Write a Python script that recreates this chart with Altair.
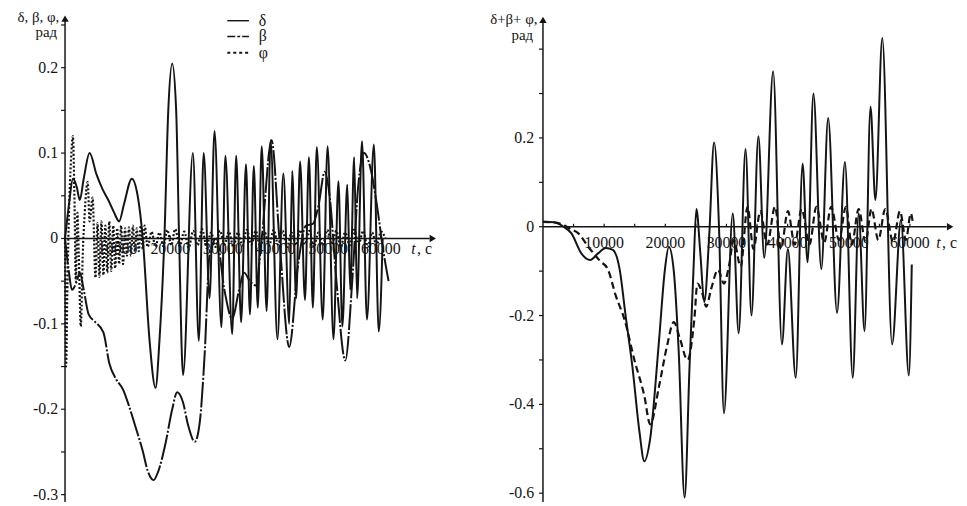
import altair as alt
import pandas as pd

# ---------------- LEFT PANEL DATA (t in s, values in rad) ----------------
delta_t = [0, 750, 1500, 2240, 2800, 3550, 4670, 5980, 7100, 8220, 9350, 10280, 11200, 12700, 13650, 14770,
           16070, 17200, 17940, 18880, 19620, 20370, 21120, 21680, 22430, 24300, 25420, 26350, 27470, 28410,
           29720, 30470, 31770, 32520, 33460, 34390, 35140, 35880, 36630, 37380, 38310, 39060, 40370, 41490,
           42610, 43170, 43920, 44670, 45600, 46350, 47100, 47850, 48970, 49900, 51020, 51960, 52710, 53640,
           54200, 54950, 55510, 56440, 57380, 58690, 59620, 60370]
delta_v = [0, 0.04, 0.07, 0.06, 0.045, 0.07, 0.1, 0.075, 0.058, 0.045, 0.03, 0.02, 0.04, 0.07, 0.055, 0.0,
           -0.12, -0.175, -0.12, 0.0, 0.15, 0.205, 0.15, 0.0, -0.16, 0.10, -0.12, 0.10, -0.07, 0.126,
           -0.104, 0.097, -0.112, 0.097, -0.098, 0.087, -0.089, 0.085, -0.081, 0.108, -0.085, 0.115, -0.118, 0.076,
           -0.10, 0.079, -0.07, 0.09, -0.072, 0.095, -0.081, 0.107, -0.095, 0.108, -0.118, 0.067, -0.103, 0.063,
           -0.06, 0.095, -0.07, 0.114, -0.095, 0.11, -0.109, 0.0]

beta_t = [0, 750, 1310, 2240, 2800, 3550, 4490, 5610, 7290, 8410, 9720, 11030, 12150, 13460, 14770, 15700,
          16820, 17760, 19060, 20370, 21310, 22430, 23360, 24670, 25610, 26540, 27470, 28780, 30280, 31770,
          33080, 34020, 35140, 36260, 37380, 39250, 40740, 42610, 44300, 45790, 47100, 48220, 49340, 50280,
          51580, 53270, 54580, 55700, 56820, 57940, 59250, 60370, 61490]
beta_v = [0, -0.04, -0.06, -0.05, -0.04, -0.06, -0.089, -0.097, -0.11, -0.146, -0.165, -0.177, -0.196, -0.222,
          -0.249, -0.272, -0.283, -0.272, -0.241, -0.2, -0.18, -0.192, -0.218, -0.238, -0.215, -0.135, -0.02,
          0.0, -0.06, -0.094, -0.06, -0.04, -0.05, -0.055, 0.0, 0.115, 0.0, -0.127, -0.03, 0.015, 0.017, 0.04,
          0.078, 0.05, -0.05, -0.143, -0.05, 0.06, 0.1, 0.085, 0.04, -0.01, -0.05]

phi_t = [0, 190, 470, 750, 1120, 1500, 1780, 2060, 2340, 2620, 2990, 3360, 3740, 4300, 4670, 5230, 5790, 6170,
         6540, 6920, 7290, 7660, 8040, 8410, 8780, 9160, 9530, 9910, 10280, 10650, 11030, 11400, 11770, 12150,
         12520, 12900, 13270, 13640, 14020, 14390, 14770, 15140, 15700, 16450, 17200, 17940, 18690, 19440,
         20190, 20930,
         21800, 22650, 23500, 24350, 25200, 26050, 26900, 27750, 28600, 29450, 30300, 31150, 32000, 32850,
         33700, 34550, 35400, 36250, 37100, 37950, 38800, 39650, 40500, 41350, 42200, 43050, 43900, 44750,
         45600, 46450, 47300, 48150, 49000, 49850, 50700, 51550, 52400, 53250, 54100, 54950, 55800, 56650,
         57500, 58350, 59200, 60050, 60900]
phi_v = [0, -0.15, -0.05, 0.03, 0.09, 0.12, 0.05, -0.05, 0.03, -0.02, -0.103, -0.02, 0.03, 0.066, 0.02, 0.048,
         -0.046, 0.018, -0.045, 0.02, -0.043, 0.015, -0.04, 0.02, -0.038, 0.015, -0.035, 0.012, -0.03, 0.015,
         -0.03, 0.012, -0.02, 0.013, -0.02, 0.015, -0.015, 0.012, -0.015, 0.015, -0.012, 0.015, -0.01, 0.008,
         -0.01, 0.007, -0.009, 0.01, -0.008, 0.011,
         -0.009, 0.008, -0.011, 0.009, -0.008, 0.011, -0.009, 0.007, -0.01, 0.009, -0.007, 0.008, -0.01, 0.007,
         -0.008, 0.01, -0.007, 0.009, -0.01, 0.007, -0.008, 0.01, -0.007, 0.009, -0.01, 0.007, -0.008, 0.01,
         -0.007, 0.009, -0.01, 0.007, -0.008, 0.01, -0.007, 0.009, -0.01, 0.007, -0.008, 0.01, -0.007, 0.009,
         -0.01, 0.007, -0.008, 0.008, 0.0]

# ---------------- RIGHT PANEL DATA ----------------
sum1_t = [0, 1770, 3380, 4660, 6270, 7720, 9000, 10290, 11420, 12540, 13510, 14630, 15760, 16560, 17530, 18970,
          19940, 20580, 21390, 22190, 23160, 23960, 24600, 25080, 25730, 26370, 27180, 27980, 28780, 29590,
          31030, 32000, 33120, 34090, 35220, 36180, 37630, 39070, 40040, 41330, 42450, 43260, 44220, 45510,
          46630, 48080, 49370, 50650, 51620, 52580, 53550, 54350, 55480, 57080, 58530, 59820, 60300]
sum1_v = [0.011, 0.01, 0.0, -0.015, -0.06, -0.075, -0.06, -0.048, -0.052, -0.096, -0.2, -0.316, -0.46, -0.528,
          -0.477, -0.257, -0.096, -0.045, -0.1, -0.28, -0.61, -0.316, -0.1, 0.04, -0.06, -0.17, -0.02, 0.19, 0.0,
          -0.42, 0.03, -0.24, 0.175, -0.2, 0.204, -0.07, 0.35, -0.265, -0.05, -0.34, 0.142, -0.08, 0.3, -0.095,
          0.245, -0.194, 0.146, -0.34, 0.03, -0.235, 0.27, 0.06, 0.425, -0.265, 0.015, -0.335, -0.085]

sum2_t = [0, 1770, 3380, 4500, 5790, 7400, 9330, 10610, 11900, 13350, 14950, 16560, 17530, 18970, 20260, 21390,
          22350, 23640, 24760, 25250, 26050, 26690, 27500, 28620, 29590, 30390, 31190, 32320, 33450, 34410,
          35540, 36660, 37950, 38910, 40040, 41160, 42290, 43580, 44700, 45990, 47110, 48400, 49530, 50490,
          51620, 52740, 53710, 54830, 55960, 57240, 58370, 59340, 60140, 60460]
sum2_v = [0.011, 0.01, 0.004, -0.005, -0.015, -0.045, -0.077, -0.096, -0.155, -0.21, -0.3, -0.38, -0.445, -0.36,
          -0.27, -0.215, -0.25, -0.3, -0.206, -0.128, -0.15, -0.18, -0.14, -0.097, -0.128, -0.09, -0.03, -0.09,
          0.045, -0.05, 0.035, -0.04, 0.045, -0.05, 0.035, -0.04, 0.04, -0.04, 0.045, -0.035, 0.045, -0.03,
          0.045, -0.04, 0.04, -0.035, 0.04, -0.03, 0.04, -0.035, 0.035, -0.03, 0.03, 0.01]

# tick labels
left_y_ticks = [0.2, 0.1, 0, -0.1, -0.2, -0.3]
left_y_labels = ["0.2", "0.1", "0", "-0.1", "-0.2", "-0.3"]
left_minor = [-0.3, -0.25, -0.2, -0.15, -0.1, -0.05, 0.0, 0.05, 0.1, 0.15, 0.2, 0.25]
right_y_ticks = [0.2, 0, -0.2, -0.4, -0.6]
right_y_labels = ["0.2", "0", "-0.2", "-0.4", "-0.6"]
right_minor = [-0.6, -0.5, -0.4, -0.3, -0.2, -0.1, 0.0, 0.1, 0.2, 0.3, 0.4]
x_ticks = [10000, 20000, 30000, 40000, 50000, 60000]
x_labels = ["10000", "20000", "30000", "40000", "50000", "60000"]
right_x_minor = [5000, 10000, 15000, 20000, 25000, 30000, 35000, 40000, 45000, 50000, 55000, 60000]

# ---------------- layout ----------------
FONT = "'Liberation Serif', 'Times New Roman', 'DejaVu Serif', serif"
INK = "#141414"
H = 496
WL, WR = 476, 483
LX, LY = [-10840, 78870], [-0.3097, 0.2663]
RX, RY = [-10290, 68020], [-0.622, 0.4857]


def X(dom, field="t"):
    return alt.X(f"{field}:Q", scale=alt.Scale(domain=dom, nice=False, zero=False), axis=None)


def Y(dom, field="v"):
    return alt.Y(f"{field}:Q", scale=alt.Scale(domain=dom, nice=False, zero=False), axis=None)


def line(ts, vs, xd, yd, dash=None, w=2.0):
    kw = dict(color=INK, strokeWidth=w, interpolate="monotone", clip=True)
    if dash:
        kw["strokeDash"] = dash
    return alt.Chart(pd.DataFrame({"t": ts, "v": vs})).mark_line(**kw).encode(x=X(xd), y=Y(yd))


def rules(rows, xd, yd, w=1.5, dash=None):
    kw = dict(color=INK, strokeWidth=w)
    if dash:
        kw["strokeDash"] = dash
    df = pd.DataFrame(rows, columns=["t", "t2", "v", "v2"])
    return alt.Chart(df).mark_rule(**kw).encode(
        x=X(xd), x2=alt.X2("t2:Q"), y=Y(yd), y2=alt.Y2("v2:Q"))


def texts(ts, vs, labels, xd, yd, align="center", baseline="middle", size=16, style="normal"):
    df = pd.DataFrame({"t": ts, "v": vs, "label": labels})
    return alt.Chart(df).mark_text(align=align, baseline=baseline, font=FONT, fontSize=size,
                                   fontStyle=style, color=INK).encode(x=X(xd), y=Y(yd), text="label:N")


def arrow(t, v, shape, xd, yd):
    return alt.Chart(pd.DataFrame({"t": [t], "v": [v]})).mark_point(
        shape=shape, filled=True, size=55, color=INK, opacity=1).encode(x=X(xd), y=Y(yd))


# ---------------- LEFT PANEL ----------------
left_layers = [
    line(beta_t, beta_v, LX, LY, dash=[26, 2, 2, 2]),
    line(delta_t, delta_v, LX, LY),
    line(phi_t, phi_v, LX, LY, dash=[2, 2], w=2.2),
    rules([[0, 0, -0.3086, 0.256], [0, 69300, 0, 0]], LX, LY),
    rules([[-750, 0, m, m] for m in left_minor], LX, LY, w=1.2),
    rules([[x, x, 0, 0.0035] for x in x_ticks], LX, LY, w=1.2),
    arrow(0, 0.2575, "triangle-up", LX, LY),
    arrow(69900, 0, "triangle-right", LX, LY),
    texts([-1300] * len(left_y_ticks), left_y_ticks, left_y_labels, LX, LY, align="right"),
    texts(x_ticks, [-0.018] * len(x_ticks), x_labels, LX, LY, baseline="alphabetic"),
    texts([65790], [-0.018], ["t"], LX, LY, align="left", baseline="alphabetic", style="italic"),
    texts([66900], [-0.018], [", с"], LX, LY, align="left", baseline="alphabetic"),
    texts([-1100], [0.2535], ["δ, β, φ,"], LX, LY, align="right", baseline="alphabetic", size=15),
    texts([-1500], [0.2365], ["рад"], LX, LY, align="right", baseline="alphabetic", size=15),
    # legend
    rules([[30840, 34950, 0.255, 0.255]], LX, LY, w=1.4),
    rules([[30840, 34950, 0.2365, 0.2365]], LX, LY, w=1.4, dash=[8, 2, 3, 2]),
    rules([[30840, 34950, 0.2175, 0.2175]], LX, LY, w=1.8, dash=[3, 3]),
    texts([36820] * 3, [0.255, 0.2365, 0.2175], ["δ", "β", "φ"], LX, LY, align="left"),
]
left = alt.layer(*left_layers).properties(width=WL, height=H)

# ---------------- RIGHT PANEL ----------------
right_layers = [
    line(sum2_t, sum2_v, RX, RY, dash=[7, 4], w=2.2),
    line(sum1_t, sum1_v, RX, RY),
    rules([[0, 0, -0.62, 0.462], [0, 66000, 0, 0]], RX, RY),
    rules([[-640, 0, m, m] for m in right_minor], RX, RY, w=1.2),
    rules([[x, x, 0, 0.0066] for x in right_x_minor], RX, RY, w=1.2),
    arrow(0, 0.466, "triangle-up", RX, RY),
    arrow(66570, 0, "triangle-right", RX, RY),
    texts([-1450] * len(right_y_ticks), right_y_ticks, right_y_labels, RX, RY, align="right"),
    texts(x_ticks, [-0.048] * len(x_ticks), x_labels, RX, RY, baseline="alphabetic"),
    texts([64300], [-0.048], ["t"], RX, RY, align="left", baseline="alphabetic", style="italic"),
    texts([65250], [-0.048], [", с"], RX, RY, align="left", baseline="alphabetic"),
    texts([-900], [0.4575], ["δ+β+ φ,"], RX, RY, align="right", baseline="alphabetic", size=15),
    texts([-1600], [0.42], ["рад"], RX, RY, align="right", baseline="alphabetic", size=15),
]
right = alt.layer(*right_layers).properties(width=WR, height=H)

chart = alt.hconcat(left, right, spacing=0).properties(
    padding={"left": 0, "top": 0, "right": 0, "bottom": 0},
    background="white",
).configure_view(stroke=None)

chart.save("out.html", embed_options={"renderer": "svg", "actions": False})
